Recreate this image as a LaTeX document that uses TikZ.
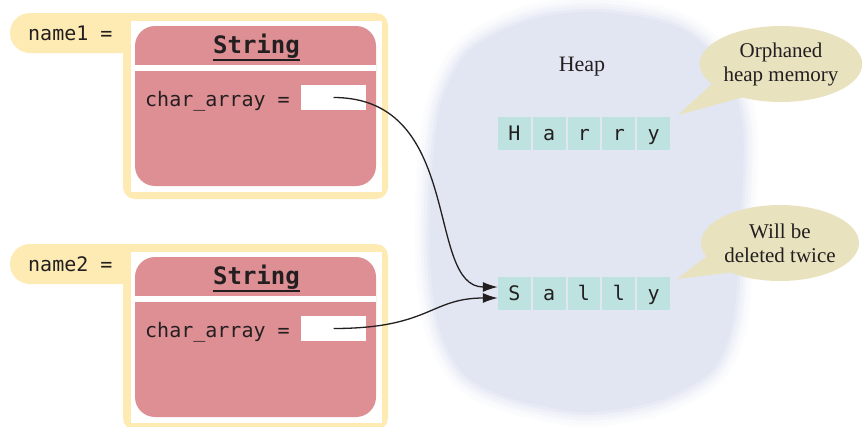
\documentclass[tikz,border=0pt]{standalone}
\usepackage{fontspec}
\setmainfont{Liberation Serif}
\setmonofont{DejaVu Sans Mono}
\usetikzlibrary{shapes.callouts,arrows.meta}
\definecolor{framec}{HTML}{FDEBB3}
\definecolor{pinkc}{HTML}{DE8F94}
\definecolor{cellc}{HTML}{BDE2E0}
\definecolor{heapc}{HTML}{E1E6F2}
\definecolor{calloutc}{HTML}{E8E2BF}
\definecolor{inkc}{HTML}{231F20}
\tikzset{
  monotext/.style={font=\ttfamily\fontsize{20}{24}\selectfont, text=inkc, inner sep=0},
  classtext/.style={font=\ttfamily\bfseries\fontsize{24}{28}\selectfont, text=inkc, inner sep=0},
  pinkbox/.style={fill=pinkc, rounded corners=20pt, minimum width=241pt, minimum height=160pt, inner sep=0},
  fieldbox/.style={fill=white, minimum width=65pt, minimum height=25pt, inner sep=0},
  cellbox/.style={fill=cellc, minimum width=32.8pt, minimum height=33pt, inner sep=0,
    text height=14pt, text depth=0pt, font=\ttfamily\fontsize{20}{24}\selectfont, text=inkc},
  bubble/.style={ellipse callout, fill=calloutc, minimum width=158pt, minimum height=76pt,
    inner sep=0, align=center, font=\fontsize{21}{24}\selectfont, text=inkc, callout pointer arc=30},
  arr/.style={draw=inkc, line width=1.3pt, -{Latex[length=15pt,width=10pt]}}
}
\begin{document}
\begin{tikzpicture}[x=1pt,y=-1pt]
\useasboundingbox (0,0) rectangle (862,426);
\fill[white] (0,0) rectangle (862,426);
% heap blob
\path[save path=\heapblob] plot[smooth cycle] coordinates {(600,12) (680,28) (725,70) (743,130) (740,230) (733,320) (712,370) (660,400) (585,412) (510,398) (465,375) (440,330) (430,260) (432,170) (442,100) (470,50) (530,20)};
\draw[use path=\heapblob, draw=heapc!10, line width=30pt, line join=round];
\draw[use path=\heapblob, draw=heapc!22, line width=24pt, line join=round];
\draw[use path=\heapblob, draw=heapc!38, line width=18pt, line join=round];
\draw[use path=\heapblob, draw=heapc!56, line width=12pt, line join=round];
\draw[use path=\heapblob, draw=heapc!78, line width=6pt, line join=round];
\fill[use path=\heapblob, fill=heapc];
\node[font=\fontsize{22}{26}\selectfont, text=inkc] (heap) at (582,67) {Heap};
% frames
\foreach \i/\dy in {1/0,2/231}{
  \begin{scope}[shift={(0,\dy)}]
    \fill[framec, rounded corners=20pt] (10,13) rectangle (170,53);
    \fill[framec, rounded corners=12pt] (123,13) rectangle (388,199);
    \fill[white] (131,21) rectangle (382,192);
    \node[pinkbox] (obj\i) at (255.5,106) {};
    \fill[white] (135,65) rectangle (376,71);
    \node[monotext, anchor=base west] (lbl\i) at (28,40) {name\i\ =};
    \node[classtext, anchor=base] (cls\i) at (256.5,53) {String};
    \draw[inkc, line width=2pt] ([yshift=-7pt]cls\i.base west) -- ([yshift=-7pt]cls\i.base east);
    \node[monotext, anchor=base west] (attr\i) at (145,106) {char\_array =};
    \node[fieldbox] (f\i) at (333.5,97.5) {};
  \end{scope}
}
% cells
\foreach \ch [count=\k from 0] in {H,a,r,r,y}{
  \node[cellbox] (h\the\numexpr\k+1\relax) at (514.4+\k*34.8,133.5) {\ch};
}
\foreach \ch [count=\k from 0] in {S,a,l,l,y}{
  \node[cellbox] (s\the\numexpr\k+1\relax) at (514.4+\k*34.8,293.5) {\ch};
}
% callouts
\node[bubble, callout absolute pointer={(678,115)}] (orph) at (781,64) {Orphaned\\heap memory};
\node[bubble, callout absolute pointer={(677,279)}] (twice) at (780,243) {Will be\\deleted twice};
% arrows
\draw[arr] (f1.center) .. controls (465,97.5) and (425,287) .. ([yshift=6.5pt]s1.west);
\draw[arr] (f2.center) .. controls (430,328.5) and (430,298) .. ([yshift=-4.5pt]s1.west);
\end{tikzpicture}
\end{document}
